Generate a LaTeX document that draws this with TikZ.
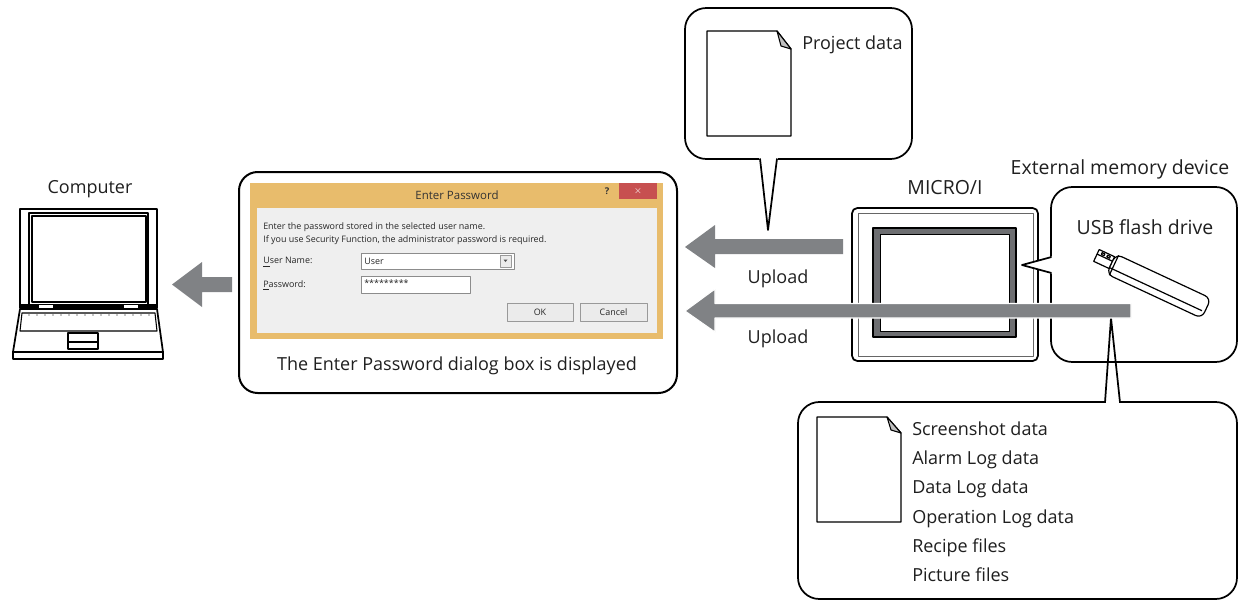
\documentclass[tikz,border=0pt]{standalone}
\usepackage{fontspec}
\setmainfont{Open Sans}
\newfontfamily\uifont{Open Sans}
\begin{document}
\begin{tikzpicture}[x=0.75pt,y=-0.75pt,line join=round]
\definecolor{arrowgray}{HTML}{808285}
\definecolor{dlgframe}{HTML}{E8BC6C}
\definecolor{dlgpanel}{HTML}{EFEFEF}
\definecolor{closered}{HTML}{C75050}
\definecolor{screenrim}{HTML}{6D6E71}
\tikzset{
  lbl/.style={font=\fontsize{13.5}{16}\selectfont, inner sep=0, text=black!88,
    text height=0.75em, text depth=0.22em, yshift=-2.2pt},
  wide/.style={lbl, font=\fontsize{14.6}{17}\selectfont},
  small/.style={font=\uifont\fontsize{6.7}{8}\selectfont, inner sep=0, anchor=west, text=black!85},
  callout/.style={draw, fill=white, line width=1.3, rounded corners=16},
  doc/.style={draw, fill=white, line width=1},
  blockarrow/.style={fill=arrowgray},
  btn/.style={draw=black!40, fill=black!8, line width=0.6},
}
\useasboundingbox (0,0) rectangle (1247,601);

% ---------- computer ----------
\node[lbl] (computer) at (90,187) {Computer};
% lid
\draw[line width=1.3] (20,209) rectangle (157,308);
\draw[line width=0.8] (29,213) rectangle (148,305);
\draw[line width=0.8] (32,216) rectangle (146,302);
\fill (20,304) rectangle (157,309);
\draw[fill=white, line width=0.6] (38,304.5) rectangle (53,308.5);
\draw[fill=white, line width=0.6] (123,304.5) rectangle (138,308.5);
% base
\draw[line width=1.3] (20,309) -- (157,309) -- (163,352) -- (13,352) -- cycle;
\draw[line width=1.3] (13,352) rectangle (163,359);
\draw[line width=0.8] (22,313) -- (155,313) -- (157,331) -- (20,331) -- cycle;
\foreach \k in {0,...,15} \fill (29+\k*8,315) circle (0.6);
\draw[line width=0.8] (68,333) rectangle (98,349);
\draw[line width=0.8] (68,342) -- (98,342);

% arrow towards the computer
\fill[blockarrow] (232,277) -- (202,277) -- (202,262) -- (172,284.5)
  -- (202,307) -- (202,292) -- (232,292) -- cycle;

% ---------- password dialog ----------
\draw[line width=1.5, rounded corners=14] (239,172) rectangle (677,393);
\fill[dlgframe] (250,183) rectangle (663,339);
\fill[dlgpanel] (257,208) rectangle (657,333);
\fill[closered] (619,183) rectangle (657,199);
\node[font=\uifont\fontsize{7}{8}\selectfont\bfseries, text=white] (close) at (638,191) {$\times$};
\node[font=\uifont\fontsize{7}{8}\selectfont\bfseries, text=black!80] (help) at (607,191) {?};
\node[font=\uifont\fontsize{8.6}{10}\selectfont, text=black!80] (title) at (457,195) {Enter Password};
\node[small] (msg1) at (263,227) {Enter the password stored in the selected user name.};
\node[small] (msg2) at (263,240) {If you use Security Function, the administrator password is required.};
\node[small] (ulabel) at (263,262) {\underline{U}ser Name:};
\node[small] (plabel) at (263,285) {\underline{P}assword:};
\draw[fill=white, draw=black!45, line width=0.6] (361,253) rectangle (514,269);
\draw[btn] (500,255) rectangle (511,267);
\fill[black!70] (503.5,259.5) -- (507.5,259.5) -- (505.5,262) -- cycle;
\node[small] (uval) at (364,261) {User};
\draw[fill=white, draw=black!45, line width=0.6] (361,276) rectangle (470,293);
\node[small] (pval) at (364,283) {*********};
\draw[btn] (507,303) rectangle (573,321);
\node[font=\uifont\fontsize{6.7}{8}\selectfont, text=black!85] (ok) at (540,312) {OK};
\draw[btn] (580,303) rectangle (647,321);
\node[font=\uifont\fontsize{6.7}{8}\selectfont, text=black!85] (cancel) at (613.5,312) {Cancel};
\node[lbl] (caption) at (457,364) {The Enter Password dialog box is displayed};

% ---------- project data callout ----------
\draw[callout] (685,8) rectangle (912,159);
\fill[white] (759,157) -- (768,230) -- (778,157) -- cycle;
\draw[line width=1.3] (760,158.5) -- (768,230) -- (777,158.5);
\draw[doc] (707,31) -- (777,31) -- (791,49) -- (791,136) -- (707,136) -- cycle;
\draw[fill=black!25, line width=0.8] (777,31) -- (791,49) -- (781,46) -- cycle;
\node[lbl, anchor=west] (project) at (802,43) {Project data};

% ---------- MICRO/I ----------
\node[wide] (microi) at (945,188) {MICRO/I};
\draw[line width=1.3, rounded corners=4] (852,208) rectangle (1038,361);
\draw[line width=0.6, draw=black!60] (858,213) rectangle (1033,356);
\draw[fill=screenrim, line width=0.8] (873,228) rectangle (1016,337);
\draw[fill=white, line width=0.6] (880,234) rectangle (1009,331);

% ---------- external memory ----------
\node[wide] (extmem) at (1120,168) {External memory device};
\draw[callout] (1051,187) rectangle (1237,362);
\fill[white] (1053,256) -- (1022,265) -- (1053,274) -- cycle;
\draw[line width=1.3] (1051.5,257) -- (1022,265) -- (1051.5,273);
\node[wide] (usb) at (1145,228) {USB flash drive};
% USB stick
\begin{scope}[shift={(1152,283)}, rotate=-25, line width=0.9]
  \draw[fill=white] (-62,-8) rectangle (-45,5);
  \draw (-62,-3) -- (-45,-3);
  \draw (-58,-6.5) rectangle (-55,-4.5);
  \draw (-52,-6.5) rectangle (-49,-4.5);
  \draw[fill=white, rounded corners=5] (-45,-11) -- (60,-11) -- (60,11) -- (-45,11) -- cycle;
  \draw (-45,4) -- (57,4);
  \draw (-42,-11) -- (-42,11);
\end{scope}

% ---------- file list callout ----------
\draw[callout] (798,402) rectangle (1237,599);
\fill[white] (1106,400.3) rectangle (1119,403.7);
\draw[line width=1.3] (1105,402.5) -- (1111,318) -- (1120,402.5);
\draw[doc] (817,417) -- (887,417) -- (901,433) -- (901,522) -- (817,522) -- cycle;
\draw[fill=black!25, line width=0.8] (887,417) -- (901,433) -- (891,430) -- cycle;
\foreach \t/\yy/\nm in {Screenshot data/429/f1, Alarm Log data/458/f2, Data Log data/487/f3,
  Operation Log data/517/f4, Recipe files/546/f5, Picture files/575/f6}
  \node[lbl, anchor=west] (\nm) at (912,\yy) {\t};

% ---------- upload arrows ----------
\fill[blockarrow] (843,239) -- (715,239) -- (715,225) -- (685,247)
  -- (715,268) -- (715,254) -- (843,254) -- cycle;
\node[lbl] (up1) at (778,277) {Upload};
\draw[blockarrow, draw=white, line width=0.8] (1131,303.5) -- (715,303.5) -- (715,289) -- (685,311)
  -- (715,332) -- (715,318) -- (1131,318) -- cycle;
\node[lbl] (up2) at (778,337) {Upload};
\end{tikzpicture}
\end{document}
